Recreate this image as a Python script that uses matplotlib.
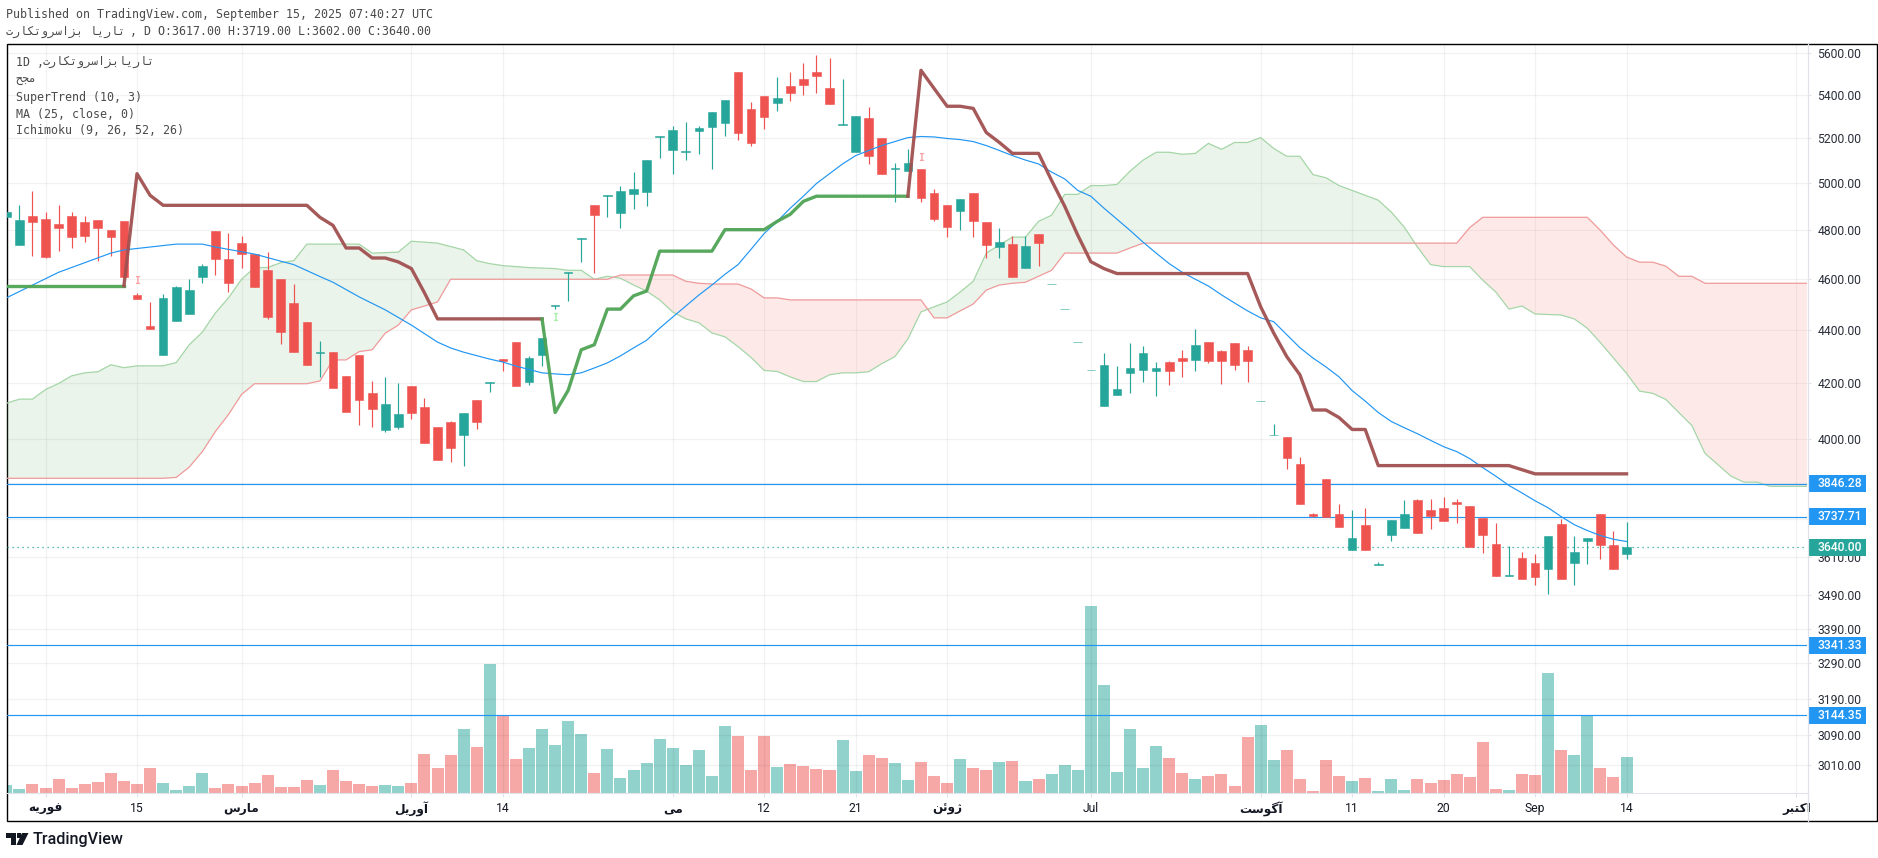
import numpy as np
import matplotlib
matplotlib.use("Agg")
import matplotlib.pyplot as plt
from matplotlib.patches import Rectangle, Polygon
from matplotlib.ticker import NullFormatter, NullLocator

# daily candles
opens = [4852,4736,4857,4844,4822,4857,4831,4840,4797,4835,4535,4413,4305,4433,4460,4605,4793,4679,4744,4699,
         4633,4597,4503,4428,4312,4314,4227,4303,4165,4030,4043,4190,4112,4040,4061,4015,4139,4201,4290,4352,
         4204,4305,4490,4622,4762,4903,4943,4870,4950,4959,5203,5145,5138,5229,5247,5266,5505,5330,5395,5360,
         5442,5475,5505,5433,5258,5135,5289,5197,5059,5050,5061,4954,4903,4878,4954,4831,4728,4740,4644,4781,
         4578,4479,4352,4248,4115,4155,4237,4248,4244,4278,4292,4285,4352,4318,4348,4322,4135,4012,4008,3915,
         3745,3862,3745,3630,3710,3584,3680,3700,3791,3759,3766,3785,3773,3733,3650,3551,3607,3590,3572,3713,
         3590,3658,3745,3646,3617]
highs = [4880,4903,4963,4874,4903,4874,4857,4840,4797,4835,4543,4507,4539,4570,4597,4660,4793,4785,4773,4699,
         4707,4597,4578,4428,4356,4314,4227,4303,4207,4222,4200,4190,4146,4040,4064,4090,4139,4204,4290,4352,
         4300,4366,4495,4625,4765,4903,4946,4988,5047,5100,5206,5252,5270,5252,5320,5373,5505,5364,5395,5485,
         5505,5548,5587,5577,5475,5298,5340,5197,5088,5150,5061,4972,4903,4929,4954,4831,4809,4773,4773,4781,
         4578,4479,4352,4248,4310,4262,4348,4337,4278,4281,4322,4401,4352,4322,4348,4337,4135,4054,4008,3938,
         3750,3862,3781,3760,3766,3594,3727,3791,3795,3797,3801,3797,3773,3733,3717,3643,3624,3618,3677,3730,
         3677,3670,3745,3693,3719]
lows = [4852,4736,4691,4683,4712,4724,4748,4670,4691,4608,4519,4402,4305,4433,4460,4581,4613,4546,4644,4566,
        4441,4346,4316,4266,4220,4180,4095,4047,4040,4023,4036,4071,3985,3926,3922,3908,4036,4168,4244,4190,
        4193,4262,4480,4511,4667,4621,4852,4805,4887,4899,5110,5040,5100,5125,5060,5210,5192,5165,5238,5325,
        5370,5400,5409,5355,5258,5135,5083,5040,4916,5050,4916,4835,4769,4797,4769,4683,4683,4608,4644,4652,
        4578,4479,4352,4248,4115,4155,4162,4204,4151,4193,4222,4244,4274,4197,4248,4204,4135,4012,3898,3781,
        3738,3738,3704,3630,3632,3584,3658,3700,3686,3697,3723,3717,3640,3621,3550,3551,3541,3522,3495,3541,
        3522,3587,3604,3572,3602]
closes = [4874,4840,4831,4687,4805,4769,4773,4809,4769,4608,4519,4402,4523,4566,4554,4652,4679,4581,4699,4566,
          4450,4391,4316,4266,4316,4180,4095,4139,4105,4125,4086,4091,3985,3926,3970,4090,4061,4204,4280,4190,
          4292,4366,4495,4625,4765,4861,4946,4963,4972,5100,5206,5234,5142,5243,5320,5373,5220,5175,5293,5385,
          5409,5447,5490,5355,5261,5298,5120,5040,5063,5088,4933,4844,4813,4929,4835,4736,4748,4608,4732,4744,
          4578,4479,4352,4248,4266,4176,4255,4310,4255,4244,4281,4342,4281,4281,4266,4281,4135,4014,3935,3781,
          3740,3738,3704,3670,3632,3586,3727,3748,3686,3740,3723,3780,3640,3680,3550,3553,3541,3547,3677,3541,
          3624,3670,3646,3572,3640]
volumes = [8,4,9,5,14,5,9,11,20,12,9,25,10,3,7,20,5,9,7,10,18,6,6,13,8,23,12,9,7,8,7,10,39,25,38,64,46,129,78,34,
           45,64,48,72,59,20,44,15,23,30,54,45,28,43,17,67,57,23,57,26,29,27,24,23,53,22,38,35,30,13,31,17,10,34,25,
           23,31,32,12,14,19,28,23,187,108,21,64,25,47,35,20,14,17,19,7,56,68,33,43,14,2,33,17,12,15,2,14,3,14,10,13,
           19,16,51,4,3,19,18,120,43,38,78,25,16,36]

# SuperTrend, one list per colour run (bar index, value)
st_green1_idx = [0, 9]
st_green1 = [4571, 4571]
st_red1_idx = [9,10,11,12,23,24,25,26,27,28,29,30,31,32,33,41]
st_red1 = [4571,5040,4946,4903,4903,4852,4818,4724,4724,4683,4683,4667,4640,4543,4441,4441]
st_green2_idx = [41,42,43,44,45,46,47,48,49,50,54,55,58,59,60,61,62,69]
st_green2 = [4441,4093,4173,4323,4342,4479,4479,4531,4550,4711,4711,4800,4800,4835,4865,4920,4942,4942]
st_red2_idx = [69,70,71,72,73,74,75,76,77,79,80,81,82,83,84,85,95,96,97,98,99,100,101,102,103,104,105,115,116,117,124]
st_red2 = [4942,5515,5429,5345,5345,5335,5224,5179,5130,5130,5010,4899,4777,4668,4640,4620,4620,4488,4386,4297,
           4230,4102,4102,4075,4033,4033,3908,3908,3894,3880,3880]

# MA (25, close, 0)
ma_idx = [0,4,8,9,13,15,16,19,21,22,24,25,27,29,31,33,34,35,37,38,39,41,42,43,44,45,46,47,48,49,50,51,52,53,54,55,56,57,
          58,59,60,61,62,63,64,65,66,67,68,69,70,71,72,73,74,75,76,77,78,79,80,81,82,83,84,85,86,87,88,89,90,91,92,93,94,
          95,96,97,98,99,100,101,102,103,104,105,106,107,108,109,110,111,112,113,114,115,116,117,118,119,120,121,122,123,124]
ma = [4523,4625,4703,4716,4740,4740,4728,4699,4670,4656,4608,4585,4527,4476,4417,4352,4330,4314,4288,4277,4262,4237,4233,
      4230,4237,4255,4274,4300,4330,4359,4405,4448,4491,4534,4574,4617,4656,4719,4784,4835,4891,4942,4997,5040,5083,5120,
      5143,5165,5183,5201,5206,5204,5197,5192,5183,5165,5143,5120,5100,5083,5047,5017,4967,4942,4891,4844,4797,4748,4703,
      4660,4625,4597,4570,4535,4503,4472,4445,4430,4380,4331,4292,4259,4222,4172,4134,4093,4061,4039,4018,3995,3973,3956,
      3932,3901,3872,3841,3816,3790,3767,3738,3712,3693,3677,3665,3658]

# Ichimoku cloud edges
span_a_idx = [0,1,2,3,4,5,6,7,8,9,10,12,13,14,15,16,17,18,19,20,21,22,23,27,28,30,31,33,35,36,37,38,40,42,43,44,45,46,47,48,
              49,50,51,52,53,54,55,56,57,58,59,60,61,62,63,64,65,66,67,68,69,70,71,72,73,74,75,76,77,78,79,80,81,82,83,84,
              85,86,87,88,89,90,91,92,93,94,95,96,97,98,99,100,101,102,103,104,105,106,107,108,109,110,112,113,114,115,116,
              117,118,119,120,121,122,123,124,125,126,127,128,129,130,131,132,133,134,135,138]
span_a = [4126,4141,4141,4176,4198,4226,4237,4241,4267,4256,4263,4263,4275,4342,4390,4464,4523,4597,4644,4644,4664,4672,4740,
          4740,4703,4707,4752,4744,4716,4672,4660,4652,4644,4640,4633,4633,4597,4609,4601,4574,4550,4515,4468,4441,4426,4387,
          4372,4335,4294,4246,4242,4222,4205,4205,4230,4237,4237,4241,4271,4297,4364,4468,4488,4507,4546,4589,4703,4736,4769,
          4769,4835,4861,4950,4950,4988,4988,4993,5051,5100,5135,5135,5126,5130,5175,5148,5179,5179,5201,5152,5117,5117,5036,
          5022,4988,4967,4946,4925,4874,4810,4728,4656,4648,4648,4593,4546,4479,4491,4460,4458,4456,4441,4405,4350,4292,4235,
          4170,4162,4140,4093,4047,3950,3911,3872,3852,3852,3838,3838]
span_b_idx = [0,12,13,14,15,16,17,18,19,23,24,25,26,27,28,29,30,31,32,33,34,46,47,51,52,53,54,56,57,58,59,60,70,71,72,73,74,75,
              76,77,78,79,80,81,85,86,87,111,112,113,121,122,123,124,125,126,127,128,129,130,138]
span_b = [3865,3865,3868,3903,3956,4026,4086,4158,4197,4197,4207,4285,4285,4316,4323,4386,4417,4476,4491,4507,4597,4597,4614,
          4614,4589,4581,4578,4578,4558,4523,4523,4515,4515,4445,4445,4472,4499,4554,4574,4581,4585,4609,4633,4703,4703,4724,
          4744,4744,4809,4852,4852,4797,4736,4687,4666,4666,4650,4609,4609,4581,4581]

# horizontal levels drawn on the chart and the last price
levels = [3846.28, 3737.71, 3341.33, 3144.35]
last_price = 3640.00
price_ticks = [5600,5400,5200,5000,4800,4600,4400,4200,4000,3850,3730,3610,3490,3390,3290,3190,3090,3010]
hidden_ticks = [3850, 3730]  # these labels sit under the level boxes in the reference
flip_idx = [10, 42, 70]
flip_price = [4589, 4445, 5110]
flip_color = ["#f7a3a3", "#a5f2a5", "#f7a3a3"]

time_ticks = [3,10,18,31,38,51,58,65,72,83,96,103,110,117,124,137]
time_labels = ["فوریه","15","مارس","آوریل","14","می","12","21","ژوئن","Jul","آگوست","11","20","Sep","14","اکتبر"]

ticker_fa = "تاریا بزاسروتکارت"
ticker_fa2 = "تاریابزاسروتکارت"
exchange_fa = "مجح"

# matplotlib has no arabic shaping, so pick the joined forms and lay them out left to right
forms = {"ا":"\ufe8d\ufe8e", "آ":"\ufe81\ufe82", "ر":"\ufead\ufeae", "ز":"\ufeaf\ufeb0", "ژ":"\ufb8a\ufb8b", "و":"\ufeed\ufeee",
         "ب":"\ufe8f\ufe90\ufe91\ufe92", "ت":"\ufe95\ufe96\ufe97\ufe98", "ج":"\ufe9d\ufe9e\ufe9f\ufea0", "ح":"\ufea1\ufea2\ufea3\ufea4",
         "س":"\ufeb1\ufeb2\ufeb3\ufeb4", "ف":"\ufed1\ufed2\ufed3\ufed4", "ک":"\ufb8e\ufb8f\ufb90\ufb91", "گ":"\ufb92\ufb93\ufb94\ufb95",
         "ل":"\ufedd\ufede\ufedf\ufee0", "م":"\ufee1\ufee2\ufee3\ufee4", "ن":"\ufee5\ufee6\ufee7\ufee8", "ه":"\ufee9\ufeea\ufeeb\ufeec",
         "ی":"\ufbfc\ufbfd\ufbfe\ufbff", "ئ":"\ufe89\ufe8a\ufe8b\ufe8c"}

def fa(s):
    if not any(ch in forms for ch in s):
        return s
    out = []
    for i, ch in enumerate(s):
        if ch not in forms:
            out.append(ch)
            continue
        prev = s[i-1] if i > 0 else ""
        nxt = s[i+1] if i + 1 < len(s) else ""
        to_prev = prev in forms and len(forms[prev]) == 4
        to_next = nxt in forms and len(forms[ch]) == 4
        if to_prev and to_next:
            out.append(forms[ch][3])
        elif to_prev:
            out.append(forms[ch][1])
        elif to_next:
            out.append(forms[ch][2])
        else:
            out.append(forms[ch][0])
    return "".join(reversed(out))

W, H = 1878, 858
UP, DOWN = "#26a69a", "#ef5350"
BLUE = "#2196f3"
MONO = ["DejaVu Sans Mono", "DejaVu Sans"]

def fx(x):
    return x / W

def fy(y):
    return 1 - y / H

plt.rcParams["font.family"] = ["Roboto", "DejaVu Sans"]
fig = plt.figure(figsize=(W / 100, H / 100), dpi=100, facecolor="white")
pos = [fx(7), fy(793), fx(1807.5 - 7), (793 - 44) / H]

# volume sits behind the price pane
vol = fig.add_axes(pos, zorder=0)
ax = fig.add_axes(pos, zorder=1)
ax.patch.set_visible(False)

x = np.arange(len(closes))
is_up = np.array(closes) >= np.array(opens)
colors = [UP if u else DOWN for u in is_up]

vol.bar(x, volumes, width=0.92, color=colors, alpha=0.5, linewidth=0)
vol.set_ylim(0, 749)
vol.set_xlim(0.05, 137.85)
vol.axis("off")

ax.set_yscale("log")
ax.set_ylim(2938, 5643)
ax.set_xlim(0.05, 137.85)

# cloud
cloud_x = np.arange(0, 139)
cloud_a = np.interp(cloud_x, span_a_idx, span_a)
cloud_b = np.interp(cloud_x, span_b_idx, span_b)
ax.fill_between(cloud_x, cloud_a, cloud_b, where=cloud_a >= cloud_b, interpolate=True, color="#43a047", alpha=0.11, linewidth=0, zorder=1)
ax.fill_between(cloud_x, cloud_a, cloud_b, where=cloud_a < cloud_b, interpolate=True, color="#f44336", alpha=0.11, linewidth=0, zorder=1)
ax.plot(span_a_idx, span_a, color="#a5d6a7", lw=0.9, zorder=2)
ax.plot(span_b_idx, span_b, color="#ef9a9a", lw=0.9, zorder=2)

# levels
for lv in levels:
    ax.axhline(lv, color=BLUE, lw=0.85, zorder=3)
ax.axhline(last_price, color=UP, lw=0.9, linestyle=(0, (1, 3)), zorder=3)

# candles
ax.vlines(x, lows, highs, colors=colors, lw=0.85, zorder=4)
ax.bar(x, np.abs(np.array(closes) - np.array(opens)), bottom=np.minimum(opens, closes), width=0.66,
       color=colors, edgecolor=colors, linewidth=0.4, zorder=4)

# indicators
ax.plot(ma_idx, ma, color=BLUE, lw=0.85, zorder=5)
ax.plot(st_green1_idx, st_green1, color="#4fa355", lw=2.4, alpha=0.95, zorder=6)
ax.plot(st_red1_idx, st_red1, color="#a05050", lw=2.4, alpha=0.95, zorder=6)
ax.plot(st_green2_idx, st_green2, color="#4fa355", lw=2.4, alpha=0.95, zorder=6)
ax.plot(st_red2_idx, st_red2, color="#a05050", lw=2.4, alpha=0.95, zorder=6)
for i, p, c in zip(flip_idx, flip_price, flip_color):
    ax.text(i, p, "I", color=c, fontsize=7, family=MONO, weight="bold", ha="center", va="center", zorder=6)

# axes furniture
ax.yaxis.tick_right()
ax.yaxis.set_minor_locator(NullLocator())
ax.yaxis.set_minor_formatter(NullFormatter())
ax.set_yticks(price_ticks)
ax.set_yticklabels(["" if p in hidden_ticks else f"{p:.2f}" for p in price_ticks])
ax.set_xticks(time_ticks)
ax.set_xticklabels([fa(t) for t in time_labels])
ax.tick_params(axis="y", length=3, color="#e0e3eb", labelsize=8.7, labelcolor="#2a2e39", pad=4)
ax.tick_params(axis="x", length=3, color="#e0e3eb", labelsize=8.7, labelcolor="#131722", pad=3.5)
for lab, raw in zip(ax.get_xticklabels(), time_labels):
    lab.set_fontfamily(["Roboto", "DejaVu Sans"])
    if any(ch in forms for ch in raw):
        lab.set_fontweight("bold")
ax.grid(True, color="black", alpha=0.05, lw=0.9)
ax.set_axisbelow(True)
for side in ["top", "left", "right"]:
    ax.spines[side].set_visible(False)
ax.spines["bottom"].set_color("#e0e3eb")

# price boxes on the scale
fig.canvas.draw()
for price, col in [(levels[0], BLUE), (levels[1], BLUE), (last_price, UP), (levels[2], BLUE), (levels[3], BLUE)]:
    ypx = ax.get_yaxis_transform().transform((1, price))[1]
    ax.add_patch(Rectangle((fx(1807.5), (ypx - 8.5) / H), 58 / W, 17 / H, transform=fig.transFigure,
                           facecolor=col, edgecolor="none", clip_on=False, zorder=8))
    ax.text(fx(1817), ypx / H, f"{price:.2f}", transform=fig.transFigure, color="white", fontsize=8.7,
            weight="medium", va="center", ha="left", clip_on=False, zorder=9)

# outer frame and price scale divider
fig.add_artist(Rectangle((fx(6.5), fy(821)), fx(1870), (821 - 43.5) / H, transform=fig.transFigure,
                         fill=False, edgecolor="black", lw=1.0))
fig.add_artist(plt.Line2D([fx(1807.5), fx(1807.5)], [fy(821), fy(44)], transform=fig.transFigure, color="#e0e3eb", lw=0.9))

# header and legend
HEAD = "#4a4a4a"
fig.text(fx(6.3), fy(14.5), "Published on TradingView.com, September 15, 2025 07:40:27 UTC", family=MONO, fontsize=8.4, color=HEAD, va="center")
fig.text(fx(6.3), fy(31.5), fa(ticker_fa), family=MONO, fontsize=8.4, color=HEAD, va="center")
fig.text(fx(130), fy(31.5), ", D O:3617.00 H:3719.00 L:3602.00 C:3640.00", family=MONO, fontsize=8.4, color=HEAD, va="center")
fig.text(fx(15.7), fy(62), "1D ,", family=MONO, fontsize=8.4, color=HEAD, va="center")
fig.text(fx(43), fy(62), fa(ticker_fa2), family=MONO, fontsize=8.4, color=HEAD, va="center")
fig.text(fx(15.7), fy(80), fa(exchange_fa), family=MONO, fontsize=8.4, color=HEAD, va="center")
fig.text(fx(15.7), fy(97), "SuperTrend (10, 3)", family=MONO, fontsize=8.4, color=HEAD, va="center")
fig.text(fx(15.7), fy(114), "MA (25, close, 0)", family=MONO, fontsize=8.4, color=HEAD, va="center")
fig.text(fx(15.7), fy(131), "Ichimoku (9, 26, 52, 26)", family=MONO, fontsize=8.4, color=HEAD, va="center")

# TradingView logo
LOGO = "#131722"
fig.add_artist(Polygon([(fx(6), fy(833)), (fx(15.5), fy(833)), (fx(15.5), fy(845)), (fx(10.5), fy(845)), (fx(10.5), fy(838)), (fx(6), fy(838))],
                       transform=fig.transFigure, color=LOGO, lw=0))
fig.add_artist(Polygon([(fx(22), fy(833)), (fx(28.5), fy(833)), (fx(22.5), fy(845)), (fx(16.5), fy(845))],
                       transform=fig.transFigure, color=LOGO, lw=0))
fig.add_artist(Polygon([(fx(17), fy(833)), (fx(20.5), fy(833)), (fx(20.5), fy(837.5)), (fx(17), fy(837.5))],
                       transform=fig.transFigure, color=LOGO, lw=0))
fig.text(fx(33), fy(839.5), "TradingView", fontsize=11.6, weight="medium", color=LOGO, va="center", family=["Roboto", "DejaVu Sans"])

fig.savefig("out.png", dpi=100)
